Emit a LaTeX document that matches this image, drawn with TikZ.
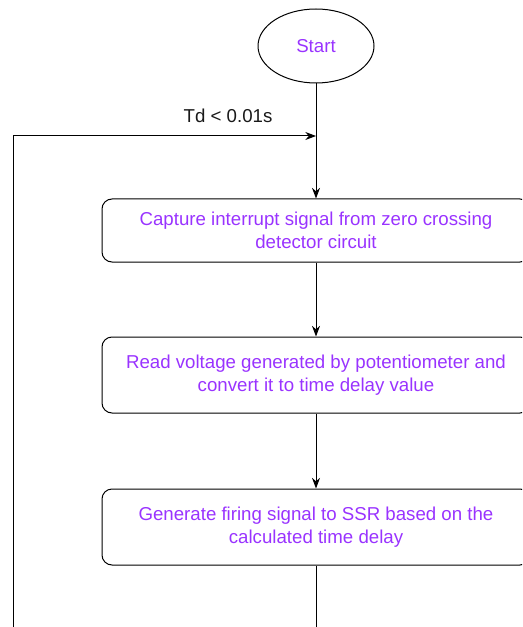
\documentclass[tikz,border=0pt]{standalone}
\usepackage{fontspec}
\setmainfont{Liberation Sans}
\usepackage{tikz}
\usetikzlibrary{positioning, arrows.meta, shapes.geometric}
\definecolor{txtpurple}{RGB}{153,51,255}

\begin{document}
\begin{tikzpicture}[
        x=0.75pt, y=-0.75pt,
        terminal/.style={ellipse, draw, line width=0.75pt, minimum width=87pt, minimum height=55.5pt, inner sep=0pt, text=txtpurple, font=\fontsize{14}{17}\selectfont},
        process/.style={rectangle, rounded corners=7.5pt, draw, line width=0.75pt, minimum width=321pt, align=center, inner sep=0pt, text=txtpurple, font=\fontsize{14}{17}\selectfont},
        flow/.style={draw, line width=0.75pt, -{Stealth[length=8pt, width=6pt]}},
        lbl/.style={font=\fontsize{14}{17}\selectfont, text=black!90}
    ]
        \useasboundingbox (0,0) rectangle (522,627);
        \clip (0,0) rectangle (522,627);

        % Steps
        \node[terminal] (start) at (316,46) {Start};
        \node[process, minimum height=47.25pt] (capture) at (316,230.5) {Capture interrupt signal from zero crossing\\detector circuit};
        \node[process, minimum height=57pt] (read) at (316,375) {Read voltage generated by potentiometer and\\convert it to time delay value};
        \node[process, minimum height=57pt] (fire) at (316,527) {Generate firing signal to SSR based on the\\calculated time delay};

        % Loop points
        \coordinate (merge) at (316,136);
        \coordinate (loopend) at (13,640);
        \coordinate (fireend) at (316,640);

        % Edges
        \draw[flow] (start) -- (capture);
        \draw[flow] (capture) -- (read);
        \draw[flow] (read) -- (fire);
        \draw[line width=0.75pt] (fire) -- (fireend);
        \draw[flow] (loopend) |- (merge);
        \node[lbl] (cond) at (228,116) {Td < 0.01s};
    \end{tikzpicture}
\end{document}
